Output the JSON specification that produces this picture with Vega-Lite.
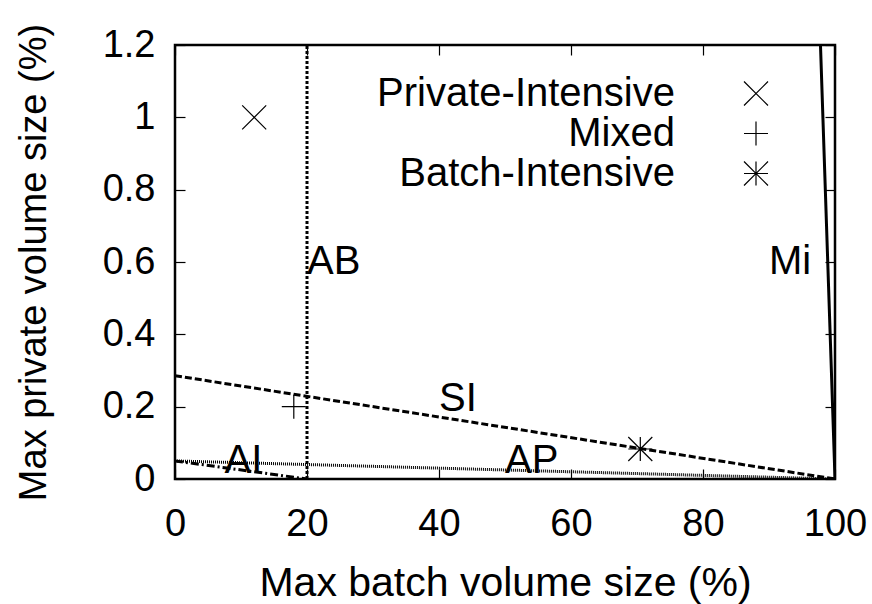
{
  "$schema": "https://vega.github.io/schema/vega-lite/v6.json",
  "width": 660,
  "height": 434,
  "autosize": "none",
  "padding": {"left": 175, "top": 45, "right": 37, "bottom": 125},
  "background": "white",
  "config": {
    "view": {"stroke": "black", "strokeWidth": 2.5},
    "font": "Liberation Sans",
    "axis": {
      "grid": false,
      "domain": false,
      "labelFlush": false,
      "labelOverlap": false,
      "tickColor": "black",
      "tickWidth": 1.2,
      "tickSize": -10,
      "labelFont": "Liberation Sans",
      "labelFontSize": 38,
      "labelColor": "black",
      "titleFont": "Liberation Sans",
      "titleFontSize": 40,
      "titleFontWeight": "normal",
      "titleColor": "black"
    },
    "legend": {
      "orient": "none",
      "legendX": 561,
      "legendY": 28.5,
      "padding": 0,
      "rowPadding": -4,
      "labelAlign": "right",
      "labelOffset": -101,
      "labelFont": "Liberation Sans",
      "labelFontSize": 40,
      "labelColor": "black",
      "labelLimit": 0,
      "symbolSize": 576,
      "symbolStrokeColor": "black",
      "symbolStrokeWidth": 1.2,
      "symbolFillColor": "transparent"
    }
  },
  "datasets": {
    "lines": [
      {"line": "AB", "x": 20, "y": 0},
      {"line": "AB", "x": 20, "y": 1.2},
      {"line": "SI", "x": 0, "y": 0.2857},
      {"line": "SI", "x": 100, "y": 0},
      {"line": "AP", "x": 0, "y": 0.05},
      {"line": "AP", "x": 100, "y": 0},
      {"line": "AI", "x": 0, "y": 0.05},
      {"line": "AI", "x": 20, "y": 0},
      {"line": "Mi", "x": 97.8, "y": 1.2},
      {"line": "Mi", "x": 100, "y": 0}
    ],
    "labels": [
      {"label": "AB", "x": 20, "y": 0.6},
      {"label": "SI", "x": 40, "y": 0.22},
      {"label": "AI", "x": 7.5, "y": 0.05},
      {"label": "AP", "x": 50, "y": 0.05},
      {"label": "Mi", "x": 90, "y": 0.6}
    ],
    "points": [
      {"workload": "Private-Intensive", "x": 12, "y": 1.0},
      {"workload": "Mixed", "x": 18, "y": 0.2},
      {"workload": "Batch-Intensive", "x": 70.5, "y": 0.083}
    ]
  },
  "layer": [
    {
      "data": {"name": "lines"},
      "mark": {"type": "line", "color": "black", "clip": true},
      "encoding": {
        "x": {
          "field": "x", "type": "quantitative",
          "scale": {"domain": [0, 100], "nice": false, "zero": false},
          "axis": {
            "values": [0, 20, 40, 60, 80, 100],
            "title": "Max batch volume size (%)",
            "labelPadding": 36,
            "titleFontSize": 41,
            "titleY": 116,
            "titleBaseline": "alphabetic"
          }
        },
        "y": {
          "field": "y", "type": "quantitative",
          "scale": {"domain": [0, 1.2], "nice": false},
          "axis": {
            "values": [0, 0.2, 0.4, 0.6, 0.8, 1, 1.2],
            "format": "~g",
            "title": "Max private volume size (%)",
            "labelPadding": 30,
            "titleFontSize": 38,
            "titleAngle": 270,
            "titleX": -130,
            "titleY": 217,
            "titleAlign": "center",
            "titleBaseline": "alphabetic"
          }
        },
        "detail": {"field": "line", "type": "nominal"},
        "strokeDash": {
          "field": "line", "type": "nominal",
          "scale": {"domain": ["AB", "SI", "AP", "AI", "Mi"], "range": [[3, 2], [7, 3], [1, 1], [8, 3, 2, 3], [1, 0]]},
          "legend": null
        },
        "strokeWidth": {
          "field": "line", "type": "nominal",
          "scale": {"domain": ["AB", "SI", "AP", "AI", "Mi"], "range": [3, 3, 2, 3, 3]},
          "legend": null
        }
      }
    },
    {
      "data": {"name": "labels"},
      "mark": {"type": "text", "align": "left", "baseline": "middle", "font": "Liberation Sans", "fontSize": 40, "color": "black"},
      "encoding": {
        "x": {"field": "x", "type": "quantitative", "axis": {"orient": "top", "labels": false, "title": null, "values": [0, 20, 40, 60, 80, 100]}},
        "y": {"field": "y", "type": "quantitative", "axis": {"orient": "right", "labels": false, "title": null, "values": [0, 0.2, 0.4, 0.6, 0.8, 1, 1.2]}},
        "text": {"field": "label", "type": "nominal"}
      }
    },
    {
      "data": {"name": "points"},
      "mark": {"type": "point", "filled": false, "stroke": "black", "strokeWidth": 1.2, "size": 576, "opacity": 1},
      "encoding": {
        "x": {"field": "x", "type": "quantitative", "axis": null},
        "y": {"field": "y", "type": "quantitative", "axis": null},
        "shape": {
          "field": "workload", "type": "nominal",
          "scale": {
            "domain": ["Private-Intensive", "Mixed", "Batch-Intensive"],
            "range": [
              "M-1,-1L1,1M-1,1L1,-1",
              "M-1,0L1,0M0,-1L0,1",
              "M-1,0L1,0M0,-1L0,1M-1,-1L1,1M-1,1L1,-1"
            ]
          },
          "legend": {"title": null}
        }
      }
    }
  ],
  "resolve": {"axis": {"x": "independent", "y": "independent"}}
}
